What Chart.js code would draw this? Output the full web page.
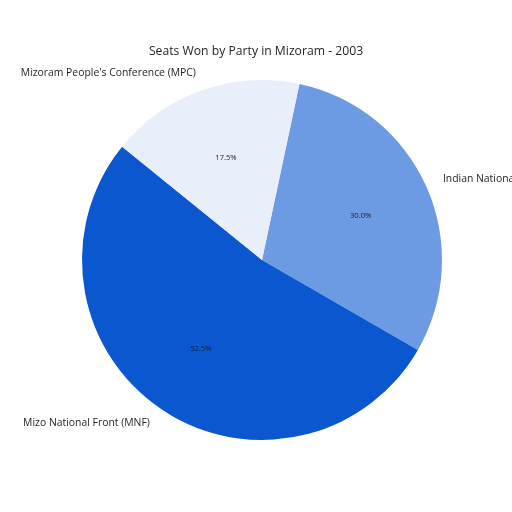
<!DOCTYPE html>
<html>
<head>
<meta charset="utf-8">
<script src="https://cdn.jsdelivr.net/npm/chart.js@4"></script>
<style>
  html, body { margin: 0; padding: 0; background: #fff; }
  #app { display: block; }
</style>
</head>
<body>
<canvas id="app" width="512" height="512"></canvas>
<script>
// data, in drawing order (clockwise from the top)
const parties = ['Indian National Congress (INC)', 'Mizo National Front (MNF)', "Mizoram People's Conference (MPC)"];
const seats = [12, 21, 7];
const colors = ['#6d9be3', '#0b57d0', '#e8eefa'];
const chartTitle = 'Seats Won by Party in Mizoram - 2003';

const FONT = '"Open Sans", Roboto, sans-serif';

// draws outside labels, percentages and the title like a matplotlib pie
const pieText = {
  id: 'pieText',
  afterDraw(chart) {
    const ctx = chart.ctx;
    const meta = chart.getDatasetMeta(0);
    const total = seats.reduce((a, b) => a + b, 0);
    ctx.save();
    ctx.textBaseline = 'middle';
    meta.data.forEach((arc, i) => {
      const mid = (arc.startAngle + arc.endAngle) / 2;
      const r = arc.outerRadius;
      // name label at 1.1 r
      const lx = arc.x + Math.cos(mid) * r * 1.1;
      const ly = arc.y + Math.sin(mid) * r * 1.1;
      ctx.fillStyle = '#1f1f1f';
      ctx.font = '10.4px ' + FONT;
      ctx.textAlign = lx > arc.x ? 'left' : 'right';
      ctx.fillText(parties[i], lx, ly);
      // percentage at 0.6 r
      const px = arc.x + Math.cos(mid) * r * 0.6;
      const py = arc.y + Math.sin(mid) * r * 0.6;
      ctx.font = '7.6px ' + FONT;
      ctx.textAlign = 'center';
      ctx.fillText((seats[i] / total * 100).toFixed(1) + '%', px, py);
    });
    ctx.font = '12.2px ' + FONT;
    ctx.textAlign = 'center';
    ctx.fillText(chartTitle, 256, 52);
    ctx.restore();
  }
};

new Chart(document.getElementById('app'), {
  type: 'pie',
  data: {
    labels: parties,
    datasets: [{
      data: seats,
      backgroundColor: colors,
      borderWidth: 0,
      hoverOffset: 0
    }]
  },
  options: {
    responsive: false,
    animation: false,
    rotation: 12,
    layout: { padding: { left: 82, right: 70, top: 80, bottom: 72 } },
    plugins: {
      legend: { display: false },
      tooltip: { enabled: false },
      title: { display: false }
    }
  },
  plugins: [pieText]
});
</script>
</body>
</html>
